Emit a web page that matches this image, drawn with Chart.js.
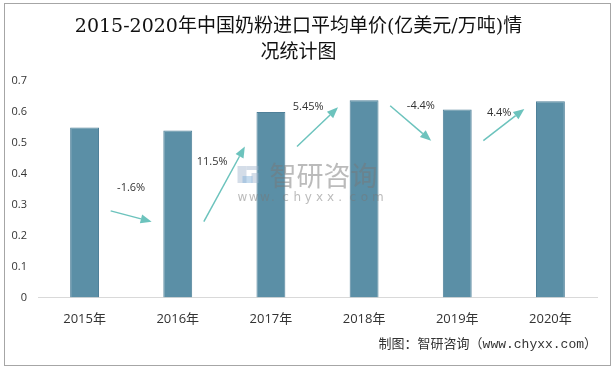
<!DOCTYPE html>
<html>
<head>
<meta charset="utf-8">
<script src="https://cdn.jsdelivr.net/npm/chart.js@4/dist/chart.umd.min.js"></script>
<style>
    html, body { margin: 0; padding: 0; background: #fff; }
    #wrap { width: 614px; height: 370px; position: relative; }
</style>
</head>
<body>
<div id="wrap"><canvas id="chart-price"></canvas></div>
<script>
// ---- data ----
const years = ['2015年', '2016年', '2017年', '2018年', '2019年', '2020年'];
const prices = [0.55, 0.54, 0.60, 0.638, 0.608, 0.635];
const yTicks = [0, 0.1, 0.2, 0.3, 0.4, 0.5, 0.6, 0.7];
const growthLabels = ['-1.6%', '11.5%', '5.45%', '-4.4%', '4.4%'];
// arrow annotations between bars, in axis values (start -> end)
const arrowFrom = [0.28, 0.245, 0.488, 0.62, 0.507];
const arrowTo = [0.245, 0.488, 0.615, 0.507, 0.61];
const growthLabelY = [0.356, 0.437, 0.616, 0.619, 0.596];
const growthLabelX = [0.5, 0.37, 0.40, 0.61, 0.45];

const barColor = '#5b8fa6', arrowColor = '#6cc3bd', textColor = '#333';

// frame, arrows, watermark, source note
const extras = {
    id: 'extras',
    afterDatasetsDraw(chart) {
        const {ctx, scales: {x, y}} = chart;
        const step = x.getPixelForValue(1) - x.getPixelForValue(0);
        ctx.save();

        // watermark
        const wx = (x.getPixelForValue(2) + x.getPixelForValue(3)) / 2;
        ctx.globalAlpha = 0.45;
        ctx.fillStyle = '#9fb4cc';
        ctx.fillRect(wx - 80, 166, 9, 17);
        ctx.fillRect(wx - 71, 166, 12, 4);
        ctx.fillRect(wx - 66, 173, 7, 10);
        ctx.fillStyle = '#7fb0da';
        ctx.fillRect(wx - 75, 176, 10, 7);
        ctx.globalAlpha = 0.5;
        ctx.fillStyle = '#777';
        ctx.font = '27px "Noto Sans CJK SC"';
        ctx.textAlign = 'left';
        ctx.textBaseline = 'middle';
        ctx.fillText('智研咨询', wx - 48, 176);
        ctx.font = '12px "DejaVu Sans"';
        const web = 'www.chyxx.com';
        for (let i = 0; i < web.length; i++) {
            ctx.fillText(web[i], wx - 80 + i * 11.2, 198);
        }
        ctx.globalAlpha = 1;

        // growth arrows
        ctx.strokeStyle = arrowColor;
        ctx.fillStyle = arrowColor;
        ctx.lineWidth = 1.5;
        growthLabels.forEach((lab, i) => {
            const base = x.getPixelForValue(i);
            const x1 = base + step * 0.28, y1 = y.getPixelForValue(arrowFrom[i]);
            const x2 = base + step * 0.72, y2 = y.getPixelForValue(arrowTo[i]);
            const ang = Math.atan2(y2 - y1, x2 - x1);
            const hl = 11, hw = 4.5;
            const bx = x2 - hl * Math.cos(ang), by = y2 - hl * Math.sin(ang);
            ctx.beginPath();
            ctx.moveTo(x1, y1);
            ctx.lineTo(bx, by);
            ctx.stroke();
            ctx.beginPath();
            ctx.moveTo(x2, y2);
            ctx.lineTo(bx + hw * Math.sin(ang), by - hw * Math.cos(ang));
            ctx.lineTo(bx - hw * Math.sin(ang), by + hw * Math.cos(ang));
            ctx.closePath();
            ctx.fill();

            ctx.fillStyle = textColor;
            ctx.font = '11px "Open Sans", "Noto Sans CJK SC"';
            ctx.textAlign = 'center';
            ctx.textBaseline = 'middle';
            ctx.fillText(lab, base + step * growthLabelX[i], y.getPixelForValue(growthLabelY[i]));
            ctx.fillStyle = arrowColor;
        });

        // source note
        ctx.fillStyle = textColor;
        ctx.font = '13px "Liberation Mono", "Noto Sans CJK SC"';
        ctx.textAlign = 'right';
        ctx.textBaseline = 'middle';
        ctx.fillText('制图：智研咨询（www.chyxx.com）', x.right, 345);

        // outer frame
        ctx.strokeStyle = '#a6a6a6';
        ctx.lineWidth = 1;
        ctx.strokeRect(4.5, 3.5, 606, 362);
        ctx.restore();
    }
};

new Chart(document.getElementById('chart-price'), {
    type: 'bar',
    data: {
        labels: years,
        datasets: [{
            label: '平均单价',
            data: prices,
            backgroundColor: barColor,
            borderColor: '#4f8099',
            borderWidth: 1,
            barPercentage: 0.31,
            categoryPercentage: 1
        }]
    },
    options: {
        responsive: true,
        maintainAspectRatio: false,
        animation: false,
        layout: {padding: {left: 0, right: 17, top: 14, bottom: 37}},
        plugins: {
            legend: {display: false},
            tooltip: {enabled: false},
            title: {
                display: true,
                text: ['2015-2020年中国奶粉进口平均单价(亿美元/万吨)情', '况统计图'],
                color: '#111',
                font: {family: '"DejaVu Serif", "Noto Sans CJK SC", serif', size: 19, weight: 'normal', lineHeight: 1.37},
                padding: {top: 0, bottom: 15}
            }
        },
        scales: {
            x: {
                grid: {display: false},
                border: {display: true, color: '#d9d9d9', width: 1},
                ticks: {color: textColor, font: {family: '"Open Sans", "Noto Sans CJK SC"', size: 13}, padding: 6}
            },
            y: {
                min: 0,
                max: 0.7,
                afterFit(scale) { scale.width = 38; },
                afterBuildTicks(scale) { scale.ticks = yTicks.map(v => ({value: v})); },
                grid: {display: false},
                border: {display: false},
                ticks: {
                    color: textColor,
                    font: {family: '"Open Sans"', size: 11},
                    padding: 3,
                    callback: v => v === 0 ? '0' : v.toFixed(1)
                }
            }
        }
    },
    plugins: [extras]
});
</script>
</body>
</html>
